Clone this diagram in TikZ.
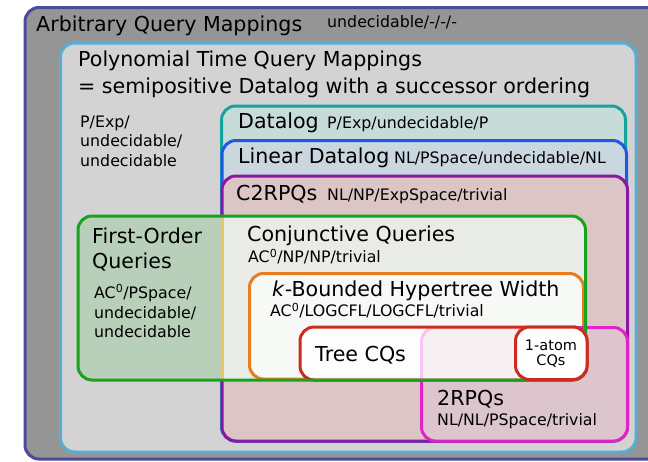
\documentclass[tikz,border=0pt]{standalone}
\usepackage{fontspec}
\setmainfont{DejaVu Sans}
\definecolor{outerF}{HTML}{959595}
\definecolor{outerB}{HTML}{4B4B99}
\definecolor{polyF}{HTML}{D3D3D3}
\definecolor{polyB}{HTML}{5AACD5}
\definecolor{dlF}{HTML}{C7DCD8}
\definecolor{dlB}{HTML}{16A39D}
\definecolor{ldF}{HTML}{C9D7DE}
\definecolor{ldB}{HTML}{2257E6}
\definecolor{c2F}{HTML}{DBC5C5}
\definecolor{c2B}{HTML}{8B17A3}
\definecolor{foF}{HTML}{B8D0BA}
\definecolor{foB}{HTML}{18A21E}
\definecolor{cqF}{HTML}{E9ECE6}
\definecolor{cqB}{HTML}{F2C45A}
\definecolor{kF}{HTML}{F7F9F6}
\definecolor{kB}{HTML}{E87C1E}
\definecolor{trB}{HTML}{CC2C1C}
\definecolor{rpF}{HTML}{DCC5CD}
\definecolor{rpB}{HTML}{E221C8}
\tikzset{
  setbox/.style={rounded corners=14pt, line width=3pt},
  big/.style={font=\fontsize{20.6}{25}\selectfont, inner sep=0pt, anchor=base west},
  small/.style={font=\fontsize{15.8}{19}\selectfont, inner sep=0pt, anchor=base west},
  tiny/.style={font=\fontsize{14.5}{15}\selectfont, inner sep=0pt, anchor=base},
}
\begin{document}
\begin{tikzpicture}[x=1pt,y=-1pt]
\clip (0,0) rectangle (648,461);
\fill[white] (0,0) rectangle (648,461);
% sets
\draw[setbox, draw=outerB, fill=outerF] (25,7.5) rectangle (662,459);
\draw[setbox, draw=polyB, fill=polyF] (60.5,43) rectangle (636,452);
\draw[setbox, draw=dlB, fill=dlF] (221.5,106) rectangle (625.5,441);
\draw[setbox, draw=ldB, fill=ldF] (222,140.5) rectangle (626.5,441);
\draw[setbox, draw=c2B, fill=c2F] (222,176) rectangle (627.5,441);
\fill[rounded corners=14pt, foF] (78,216) rectangle (585.5,380);
\begin{scope}
  \clip[rounded corners=14pt] (78,216) rectangle (585.5,380);
  \fill[cqF] (222.5,210) rectangle (600,390);
  \draw[cqB, line width=2pt] (222.5,210) -- (222.5,390);
\end{scope}
\draw[setbox, draw=kB, fill=kF] (249.5,273.5) rectangle (583.5,379);
\draw[setbox, draw=rpB, fill=rpF] (421.5,327.5) rectangle (627.5,441);
\draw[setbox, draw=trB, fill=white, fill opacity=0.75] (300,327) rectangle (587,380);
\draw[setbox, draw=foB] (78,216) rectangle (585.5,380);
\draw[setbox, draw=trB, fill=white] (515.5,327) rectangle (587,379.5);
% labels
\node[big] (tA) at (36,31) {Arbitrary Query Mappings};
\node[small] (tAc) at (327,27) {undecidable/-/-/-};
\node[big] (tP1) at (78,66.5) {Polynomial Time Query Mappings};
\node[big] (tP2) at (78,93) {= semipositive Datalog with a successor ordering};
\node[small] (tPc1) at (80,127) {P/Exp/};
\node[small] (tPc2) at (80,146.5) {undecidable/};
\node[small] (tPc3) at (80,166) {undecidable};
\node[big] (tD) at (238,128.5) {Datalog};
\node[small] (tDc) at (327,128) {P/Exp/undecidable/P};
\node[big] (tL) at (238,163) {Linear Datalog};
\node[small] (tLc) at (394,163) {NL/PSpace/undecidable/NL};
\node[big] (tC) at (236,200) {C2RPQs};
\node[small] (tCc) at (327,200) {NL/NP/ExpSpace/trivial};
\node[big] (tF1) at (92,243.5) {First-Order};
\node[big] (tF2) at (92,268.5) {Queries};
\node[small] (tFc1) at (94,298) {AC\textsuperscript{0}/PSpace/};
\node[small] (tFc2) at (94,318) {undecidable/};
\node[small] (tFc3) at (94,337.5) {undecidable};
\node[big] (tQ) at (247,241.5) {Conjunctive Queries};
\node[small] (tQc) at (248,262.5) {AC\textsuperscript{0}/NP/NP/trivial};
\node[big] (tK) at (272,296) {\textit{k}-Bounded Hypertree Width};
\node[small] (tKc) at (270,316.5) {AC\textsuperscript{0}/LOGCFL/LOGCFL/trivial};
\node[big] (tT) at (315,361.5) {Tree CQs};
\node[tiny] (t1a) at (551,350) {1-atom};
\node[tiny] (t1b) at (551,365) {CQs};
\node[big] (tR) at (437,405) {2RPQs};
\node[small] (tRc) at (437,425) {NL/NL/PSpace/trivial};
\end{tikzpicture}
\end{document}
